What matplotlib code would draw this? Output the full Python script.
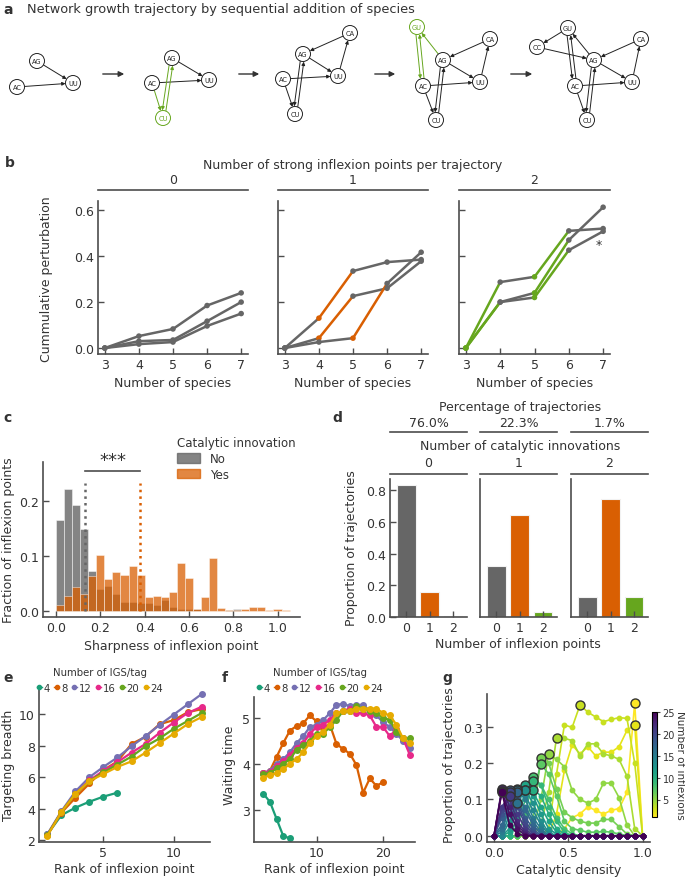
import numpy as np
import matplotlib
matplotlib.use('Agg')
import matplotlib.pyplot as plt
from matplotlib.patches import Circle, Patch
from matplotlib.lines import Line2D
import matplotlib as mpl

# ---------------- data ----------------
# panel a: small networks (layout positions in px of the panel strip)
net1_nodes = {'AG': (37, 62), 'AC': (17, 88), 'UU': (73, 84)}
net1_edges = [('AG', 'UU'), ('AC', 'UU')]
net1_new = []
net2_nodes = {'AG': (172, 59), 'AC': (152, 84), 'UU': (209, 81), 'CU': (163, 119)}
net2_edges = [('AG', 'UU'), ('AC', 'UU'), ('AC', 'CU'), ('CU', 'AG'), ('AG', 'CU')]
net2_new = ['CU']
net3_nodes = {'AG': (303, 55), 'CA': (350, 34), 'UU': (338, 77), 'AC': (283, 80), 'CU': (295, 115)}
net3_edges = [('CA', 'AG'), ('AG', 'UU'), ('UU', 'CA'), ('AC', 'UU'), ('AC', 'CU'), ('CU', 'AG'), ('AG', 'CU')]
net3_new = []
net4_nodes = {'GU': (417, 28), 'AG': (443, 61), 'CA': (490, 40), 'UU': (480, 83), 'AC': (423, 87), 'CU': (436, 121)}
net4_edges = net3_edges + [('AC', 'GU'), ('GU', 'AC'), ('AG', 'GU')]
net4_new = ['GU']
net5_nodes = {'GU': (568, 29), 'CC': (537, 48), 'AG': (594, 61), 'CA': (641, 40), 'UU': (632, 83), 'AC': (575, 87), 'CU': (587, 121)}
net5_edges = net4_edges + [('GU', 'CC'), ('CC', 'AG')]
net5_new = []
step_arrows_x = [(100, 127), (236, 262), (372, 398), (508, 535)]

# panel b
species = [3, 4, 5, 6, 7]
b_titles = ['0', '1', '2']
b0_vals = [[0, 0.052, 0.083, 0.185, 0.24],
           [0, 0.030, 0.035, 0.117, 0.20],
           [0, 0.017, 0.026, 0.096, 0.15]]
b0_segs = [['g', 'g', 'g', 'g'], ['g', 'g', 'g', 'g'], ['g', 'g', 'g', 'g']]
b1_vals = [[0, 0.13, 0.335, 0.374, 0.385],
           [0, 0.043, 0.226, 0.26, 0.378],
           [0, 0.026, 0.043, 0.281, 0.417]]
b1_segs = [['g', 'o', 'g', 'g'], ['g', 'o', 'g', 'g'], ['g', 'g', 'o', 'g']]
b2_vals = [[0, 0.287, 0.31, 0.51, 0.52],
           [0, 0.2, 0.24, 0.47, 0.613],
           [0, 0.2, 0.22, 0.426, 0.508]]
b2_segs = [['v', 'g', 'v', 'g'], ['v', 'g', 'v', 'g'], ['v', 'g', 'v', 'g']]

# panel c: histogram heights (fraction), 29 equal bins from 0 to 1.053
c_no = [0.165, 0.222, 0.193, 0.15, 0.072, 0.04, 0.045, 0.03, 0.017, 0.016,
        0.015, 0.015, 0.01, 0.02, 0.008, 0.003, 0.003, 0.003, 0.0, 0.0,
        0.0, 0.002, 0.003, 0.0, 0.0, 0.0, 0.0, 0.0, 0.0]
c_yes = [0.01, 0.028, 0.044, 0.03, 0.063, 0.101, 0.058, 0.07, 0.066, 0.081,
         0.065, 0.026, 0.028, 0.026, 0.035, 0.088, 0.06, 0.004, 0.025, 0.096,
         0.006, 0.002, 0.002, 0.003, 0.007, 0.008, 0.002, 0.004, 0.002]
c_median_no = 0.13
c_median_yes = 0.38

# panel d
d_pct = ['76.0%', '22.3%', '1.7%']
d_innov = ['0', '1', '2']
d_inflex = [0, 1, 2]
d_props = [[0.835, 0.16, 0.005],
           [0.32, 0.642, 0.032],
           [0.124, 0.745, 0.124]]

# panel e / f
igs = ['4', '8', '12', '16', '20', '24']
e_rank = list(range(1, 13))
e_vals = [
    [2.38, 3.6, 4.07, 4.45, 4.77, 5.02],
    [2.35, 3.75, 4.7, 5.6, 6.45, 7.0, 8.1, 8.55, 9.35, 9.6, 10.1, 10.3],
    [2.4, 3.85, 5.1, 6.0, 6.65, 7.25, 7.95, 8.6, 9.3, 9.95, 10.6, 11.25],
    [2.35, 3.8, 4.95, 5.8, 6.4, 6.95, 7.55, 8.1, 8.8, 9.45, 10.05, 10.45],
    [2.35, 3.8, 4.95, 5.75, 6.3, 6.8, 7.3, 7.95, 8.45, 9.05, 9.55, 10.05],
    [2.3, 3.8, 4.95, 5.75, 6.2, 6.65, 7.0, 7.55, 8.15, 8.75, 9.35, 9.8],
]
f_rank = list(range(2, 25))
f_vals = [
    [3.35, 3.17, 2.8, 2.43, 2.38],
    [3.8, 3.85, 4.15, 4.45, 4.72, 4.82, 4.88, 5.05, 4.92, 4.78, 4.85, 4.43, 4.32,
     4.22, 3.97, 3.37, 3.68, 3.52, 3.6],
    [3.8, 3.85, 4.0, 4.1, 4.25, 4.45, 4.6, 4.8, 4.85, 4.95, 5.1, 5.28, 5.3, 5.25,
     5.28, 5.28, 5.15, 5.05, 4.9, 4.8, 4.65, 4.5, 4.35],
    [3.8, 3.82, 3.95, 4.05, 4.2, 4.35, 4.45, 4.65, 4.8, 4.85, 4.95, 5.1, 5.15, 5.2,
     5.1, 5.1, 5.05, 4.8, 4.8, 4.6, 4.75, 4.55, 4.2],
    [3.78, 3.8, 3.9, 4.0, 4.1, 4.3, 4.4, 4.5, 4.65, 4.65, 4.8, 4.95, 5.15, 5.15,
     5.25, 5.2, 5.15, 5.1, 5.0, 4.95, 4.7, 4.55, 4.55],
    [3.7, 3.75, 3.8, 3.88, 4.0, 4.1, 4.25, 4.45, 4.6, 4.7, 4.85, 5.1, 5.15, 5.15,
     5.2, 5.2, 5.2, 5.2, 5.1, 5.05, 4.85, 4.55, 4.45],
]

# panel g: proportion of trajectories vs catalytic density, per number of inflexions 1..25
g_density = [0, 0.053, 0.105, 0.158, 0.211, 0.263, 0.316, 0.368, 0.421, 0.474,
             0.526, 0.579, 0.632, 0.684, 0.737, 0.789, 0.842, 0.895, 0.947, 1.0]
g_props = [
    [0, 0, 0, 0, 0, 0, 0, 0, 0, 0.02, 0.05, 0.06, 0.08, 0.07, 0.06, 0.07, 0.075, 0.12, 0.365, 0],
    [0, 0, 0, 0, 0, 0, 0, 0, 0.06, 0.18, 0.25, 0.225, 0.245, 0.22, 0.23, 0.23, 0.245, 0.29, 0.305, 0],
    [0, 0, 0, 0, 0, 0, 0, 0.02, 0.17, 0.305, 0.298, 0.36, 0.34, 0.327, 0.314, 0.32, 0.325, 0.323, 0.2, 0],
    [0, 0, 0, 0, 0, 0, 0.03, 0.12, 0.27, 0.268, 0.262, 0.22, 0.253, 0.253, 0.225, 0.22, 0.21, 0.164, 0.02, 0],
    [0, 0, 0, 0, 0, 0.02, 0.1, 0.225, 0.21, 0.19, 0.125, 0.1, 0.09, 0.1, 0.145, 0.145, 0.105, 0.03, 0, 0],
    [0, 0, 0, 0, 0, 0.05, 0.215, 0.2, 0.13, 0.065, 0.05, 0.04, 0.035, 0.035, 0.045, 0.045, 0.025, 0.005, 0, 0],
    [0, 0, 0, 0, 0.02, 0.12, 0.197, 0.17, 0.11, 0.04, 0.02, 0.015, 0.01, 0.01, 0.012, 0.01, 0.005, 0, 0, 0],
    [0, 0, 0, 0, 0.06, 0.162, 0.14, 0.1, 0.05, 0.02, 0.005, 0, 0, 0, 0, 0, 0, 0, 0, 0],
    [0, 0, 0, 0.03, 0.1, 0.15, 0.14, 0.08, 0.04, 0.01, 0, 0, 0, 0, 0, 0, 0, 0, 0, 0],
    [0, 0, 0, 0.05, 0.12, 0.127, 0.11, 0.06, 0.02, 0.005, 0, 0, 0, 0, 0, 0, 0, 0, 0, 0],
    [0, 0, 0.01, 0.08, 0.139, 0.12, 0.08, 0.04, 0.01, 0, 0, 0, 0, 0, 0, 0, 0, 0, 0, 0],
    [0, 0, 0.02, 0.1, 0.127, 0.11, 0.06, 0.02, 0.005, 0, 0, 0, 0, 0, 0, 0, 0, 0, 0, 0],
    [0, 0, 0.04, 0.11, 0.125, 0.09, 0.04, 0.01, 0, 0, 0, 0, 0, 0, 0, 0, 0, 0, 0, 0],
    [0, 0, 0.06, 0.13, 0.11, 0.07, 0.03, 0.005, 0, 0, 0, 0, 0, 0, 0, 0, 0, 0, 0, 0],
    [0, 0.01, 0.08, 0.125, 0.1, 0.05, 0.02, 0, 0, 0, 0, 0, 0, 0, 0, 0, 0, 0, 0, 0],
    [0, 0.02, 0.085, 0.091, 0.08, 0.04, 0.01, 0, 0, 0, 0, 0, 0, 0, 0, 0, 0, 0, 0, 0],
    [0, 0.03, 0.1, 0.12, 0.07, 0.03, 0.005, 0, 0, 0, 0, 0, 0, 0, 0, 0, 0, 0, 0, 0],
    [0, 0.05, 0.125, 0.1, 0.05, 0.02, 0, 0, 0, 0, 0, 0, 0, 0, 0, 0, 0, 0, 0, 0],
    [0, 0.06, 0.116, 0.09, 0.04, 0.01, 0, 0, 0, 0, 0, 0, 0, 0, 0, 0, 0, 0, 0, 0],
    [0, 0.07, 0.12, 0.08, 0.03, 0.005, 0, 0, 0, 0, 0, 0, 0, 0, 0, 0, 0, 0, 0, 0],
    [0, 0.08, 0.11, 0.06, 0.02, 0, 0, 0, 0, 0, 0, 0, 0, 0, 0, 0, 0, 0, 0, 0],
    [0, 0.125, 0.1, 0.04, 0.01, 0, 0, 0, 0, 0, 0, 0, 0, 0, 0, 0, 0, 0, 0, 0],
    [0, 0.13, 0.08, 0.03, 0.005, 0, 0, 0, 0, 0, 0, 0, 0, 0, 0, 0, 0, 0, 0, 0],
    [0, 0.123, 0.06, 0.02, 0, 0, 0, 0, 0, 0, 0, 0, 0, 0, 0, 0, 0, 0, 0, 0],
    [0, 0.12, 0.03, 0.005, 0, 0, 0, 0, 0, 0, 0, 0, 0, 0, 0, 0, 0, 0, 0, 0],
]

# ---------------- style ----------------
GREY = '#666666'
ORANGE = '#d95f02'
GREEN = '#66a61e'
DARK2 = ['#1b9e77', '#d95f02', '#7570b3', '#e7298a', '#66a61e', '#e6ab02']
seg_col = {'g': GREY, 'o': ORANGE, 'v': GREEN}
TXT = '#333333'
SPINE = '#4d4d4d'
FS = 9

plt.rcParams['font.family'] = ['DejaVu Sans']
plt.rcParams['text.color'] = TXT
plt.rcParams['axes.labelcolor'] = TXT

W, H = 685, 878
fig = plt.figure(figsize=(W / 100, H / 100), dpi=100)


def px_axes(x0, y0, x1, y1):
    return fig.add_axes([x0 / W, 1 - y1 / H, (x1 - x0) / W, (y1 - y0) / H])


def ftext(x, y, s, **kw):
    kw.setdefault('ha', 'center')
    kw.setdefault('va', 'center')
    kw.setdefault('fontsize', FS)
    fig.text(x / W, 1 - y / H, s, **kw)


def fline(x0, x1, y):
    fig.add_artist(Line2D([x0 / W, x1 / W], [1 - y / H, 1 - y / H], color=SPINE, lw=1.2))


def style(ax):
    for s in ['top', 'right']:
        ax.spines[s].set_visible(False)
    for s in ['left', 'bottom']:
        ax.spines[s].set_color(SPINE)
        ax.spines[s].set_linewidth(1.2)
    ax.tick_params(direction='in', length=4, width=1, colors=SPINE, labelcolor=TXT,
                   labelsize=FS, pad=3)


# ---------------- panel a ----------------
axa = px_axes(0, 0, W, 140)
axa.set_xlim(0, W)
axa.set_ylim(140, 0)
axa.axis('off')
ftext(3, 10, 'a', ha='left', fontweight='bold', fontsize=10)
ftext(27, 10, 'Network growth trajectory by sequential addition of species', ha='left', fontsize=9.3)

nets = [(net1_nodes, net1_edges, net1_new), (net2_nodes, net2_edges, net2_new),
        (net3_nodes, net3_edges, net3_new), (net4_nodes, net4_edges, net4_new),
        (net5_nodes, net5_edges, net5_new)]
R = 7.5
for nodes, edges, new in nets:
    eset = set(edges)
    for (u, v) in edges:
        col = GREEN if (u in new or v in new) else '#222222'
        (x0, y0), (x1, y1) = nodes[u], nodes[v]
        dx, dy = x1 - x0, y1 - y0
        d = np.hypot(dx, dy)
        ux, uy = dx / d, dy / d
        off = 1.8 if (v, u) in eset else 0.0
        px, py = -uy * off, ux * off
        axa.annotate('', xy=(x1 - ux * R + px, y1 - uy * R + py),
                     xytext=(x0 + ux * R + px, y0 + uy * R + py),
                     arrowprops=dict(arrowstyle='-|>', color=col, lw=0.7,
                                     mutation_scale=5, shrinkA=0, shrinkB=0))
    for name, (x, y) in nodes.items():
        col = GREEN if name in new else '#222222'
        axa.add_patch(Circle((x, y), R, facecolor='white', edgecolor=col, lw=0.7, zorder=3))
        axa.text(x, y, name, ha='center', va='center', fontsize=4.8, color=col, zorder=4)

for x0, x1 in step_arrows_x:
    axa.annotate('', xy=(x1, 75), xytext=(x0, 75),
                 arrowprops=dict(arrowstyle='-|>', color='#333333', lw=1.0, mutation_scale=8))

# ---------------- panel b ----------------
ftext(5, 163, 'b', ha='left', fontweight='bold', fontsize=10)
ftext(353, 165, 'Number of strong inflexion points per trajectory')
b_x = [(98, 248), (278, 428), (459, 610)]
b_data = [(b0_vals, b0_segs), (b1_vals, b1_segs), (b2_vals, b2_segs)]
for i, ((x0, x1), (vals, segs)) in enumerate(zip(b_x, b_data)):
    ax = px_axes(x0, 202, x1, 355)
    style(ax)
    # grey segments first, coloured ones on top
    for layer in ['g', 'c']:
        for v, s in zip(vals, segs):
            for j in range(len(s)):
                if (s[j] == 'g') == (layer == 'g'):
                    ax.plot(species[j:j + 2], v[j:j + 2], color=seg_col[s[j]], lw=1.8,
                            solid_capstyle='round')
    for v, s in zip(vals, segs):
        cols = [seg_col[c] for c in s] + [GREY]
        ax.scatter(species, v, c=cols, s=16, zorder=3, linewidths=0)
    ax.set_xlim(2.8, 7.2)
    ax.set_ylim(-0.026, 0.64)
    ax.set_xticks(species)
    ax.set_yticks([0, 0.2, 0.4, 0.6])
    if i > 0:
        ax.set_yticklabels([])
    else:
        ax.set_yticklabels(['0.0', '0.2', '0.4', '0.6'])
    fline(x0, x1, 191)
    ftext((x0 + x1) / 2, 181, b_titles[i])
    ftext((x0 + x1) / 2, 383, 'Number of species')
    if i == 2:
        ax.text(6.86, 0.45, '*', ha='center', va='center', fontsize=9, color=TXT)
ftext(47, 279, 'Cummulative perturbation', rotation=90)

# ---------------- panel c ----------------
ftext(3, 418, 'c', ha='left', fontweight='bold', fontsize=10)
axc = px_axes(43, 463, 300, 618)
style(axc)
edges = np.linspace(0, 1.053, len(c_no) + 1)
bw = edges[1] - edges[0]
axc.bar(edges[:-1], c_no, width=bw, align='edge', color=GREY, alpha=0.8,
        edgecolor='white', linewidth=0.4)
axc.bar(edges[:-1], c_yes, width=bw, align='edge', color=ORANGE, alpha=0.75,
        edgecolor='white', linewidth=0.4)
axc.plot([c_median_no] * 2, [0, 0.232], ls=':', color=GREY, lw=1.8)
axc.plot([c_median_yes] * 2, [0, 0.232], ls=':', color=ORANGE, lw=1.8)
axc.plot([c_median_no, c_median_yes], [0.255, 0.255], color=SPINE, lw=1.2, clip_on=False)
axc.text((c_median_no + c_median_yes) / 2, 0.258, '***', ha='center', va='bottom',
         fontsize=13, color=TXT, clip_on=False)
axc.set_xlim(-0.059, 1.10)
axc.set_ylim(-0.011, 0.271)
axc.set_xticks([0, 0.2, 0.4, 0.6, 0.8, 1.0])
axc.set_yticks([0, 0.1, 0.2])
axc.set_xticklabels(['0.0', '0.2', '0.4', '0.6', '0.8', '1.0'])
axc.set_yticklabels(['0.0', '0.1', '0.2'])
leg = axc.legend([Patch(color=GREY, alpha=0.8), Patch(color=ORANGE, alpha=0.75)], ['No', 'Yes'],
                 title='Catalytic innovation', loc='upper left',
                 bbox_to_anchor=(172 / W, 1 - 432 / H), bbox_transform=fig.transFigure,
                 frameon=False, fontsize=8.5, title_fontsize=8.5, handlelength=2.0,
                 handleheight=0.9, labelspacing=0.25, borderaxespad=0)
leg._legend_box.align = 'left'
ftext(171, 647, 'Sharpness of inflexion point')
ftext(9, 540, 'Fraction of inflexion points', rotation=90)

# ---------------- panel d ----------------
ftext(332, 418, 'd', ha='left', fontweight='bold', fontsize=10)
ftext(520, 407, 'Percentage of trajectories')
ftext(520, 447, 'Number of catalytic innovations')
d_x = [(390, 467), (480, 557), (571, 648)]
bar_cols = [GREY, ORANGE, GREEN]
for i, (x0, x1) in enumerate(d_x):
    ax = px_axes(x0, 480, x1, 618)
    style(ax)
    ax.bar(d_inflex, d_props[i], width=0.8, color=bar_cols, edgecolor='#f2f2f2', linewidth=0.8)
    ax.set_xlim(-0.7, 2.6)
    ax.set_ylim(0, 0.87)
    ax.set_xticks(d_inflex)
    ax.set_yticks([0, 0.2, 0.4, 0.6, 0.8])
    if i > 0:
        ax.set_yticklabels([])
        ax.tick_params(axis='y', length=0)
    else:
        ax.set_yticklabels(['0.0', '0.2', '0.4', '0.6', '0.8'])
    cx = (x0 + x1) / 2
    ftext(cx, 424, d_pct[i])
    fline(x0, x1, 433)
    ftext(cx, 464, d_innov[i])
    fline(x0, x1, 475)
ftext(518, 645, 'Number of inflexion points')
ftext(352, 548, 'Proportion of trajectories', rotation=90)


# ---------------- panel e / f ----------------
def igs_legend(cx):
    handles = [Line2D([], [], color=c, marker='o', ms=3, lw=1) for c in DARK2]
    fig.legend(handles, igs, ncol=6, loc='center', bbox_to_anchor=(cx / W, 1 - 681 / H),
               frameon=False, fontsize=7.3, title='Number of IGS/tag', title_fontsize=7.3,
               handlelength=0.5, handletextpad=0.15, columnspacing=0.45, borderpad=0,
               borderaxespad=0)


ftext(3, 678, 'e', ha='left', fontweight='bold', fontsize=10)
axe = px_axes(39, 688, 210, 843)
style(axe)
for c, v in zip(DARK2, e_vals):
    axe.plot(e_rank[:len(v)], v, color=c, lw=1.6, marker='o', ms=4)
axe.set_xlim(0.4, 12.6)
axe.set_ylim(1.9, 11.7)
axe.set_xticks([5, 10])
axe.set_yticks([2, 4, 6, 8, 10])
igs_legend(100)
ftext(124, 870, 'Rank of inflexion point')
ftext(9, 765, 'Targeting breadth', rotation=90)

ftext(222, 678, 'f', ha='left', fontweight='bold', fontsize=10)
axf = px_axes(254, 698, 415, 843)
style(axf)
for c, v in zip(DARK2, f_vals):
    axf.plot(f_rank[:len(v)], v, color=c, lw=1.6, marker='o', ms=4)
axf.set_xlim(0.6, 24.8)
axf.set_ylim(2.3, 5.45)
axf.set_xticks([10, 20])
axf.set_yticks([3, 4, 5])
igs_legend(320)
ftext(334, 870, 'Rank of inflexion point')
ftext(230, 765, 'Waiting time', rotation=90)

# ---------------- panel g ----------------
ftext(442, 678, 'g', ha='left', fontweight='bold', fontsize=10)
axg = px_axes(487, 695, 650, 843)
style(axg)
cmap = plt.get_cmap('viridis_r')
norm = mpl.colors.Normalize(vmin=1, vmax=25)
for n, v in enumerate(g_props, start=1):
    col = cmap(norm(n))
    axg.plot(g_density, v, color=col, lw=1.2, marker='o', ms=3.2, zorder=2)
    k = int(np.argmax(v))
    axg.plot(g_density[k], v[k], marker='o', ms=6.5, color=col, mec='#333333', mew=1.0, zorder=4)
axg.set_xlim(-0.047, 1.05)
axg.set_ylim(-0.017, 0.39)
axg.set_xticks([0, 0.5, 1.0])
axg.set_xticklabels(['0.0', '0.5', '1.0'])
axg.set_yticks([0, 0.1, 0.2, 0.3])
axg.set_yticklabels(['0.0', '0.1', '0.2', '0.3'])
ftext(569, 871, 'Catalytic density')
ftext(450, 765, 'Proportion of trajectories', rotation=90)

cax = px_axes(652, 713, 657, 818)
cb = fig.colorbar(mpl.cm.ScalarMappable(norm=norm, cmap=cmap), cax=cax)
cb.set_ticks([5, 10, 15, 20, 25])
cb.outline.set_linewidth(0.8)
cax.tick_params(labelsize=7, length=2.5, pad=1.5, colors=SPINE, labelcolor=TXT)
ftext(680, 765, 'Number of inflexions', rotation=270, fontsize=7.5)

fig.savefig('out.png', dpi=100)
